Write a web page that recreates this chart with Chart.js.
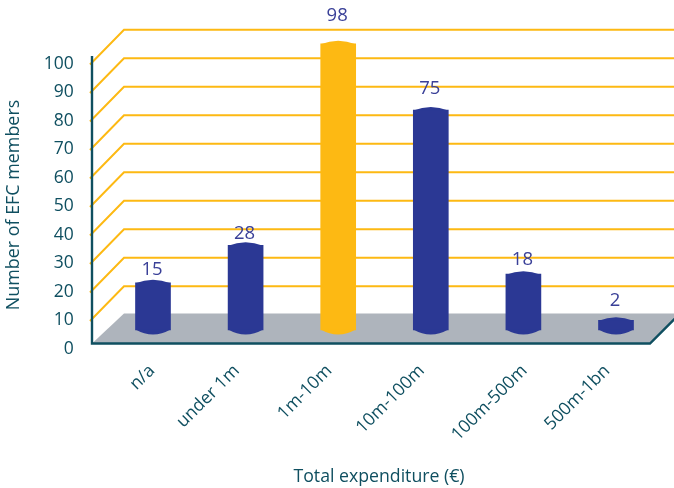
<!DOCTYPE html>
<html>
<head>
<meta charset="utf-8">
<style>html,body{margin:0;padding:0;background:#fff}canvas{display:block}</style>
<script src="https://cdn.jsdelivr.net/npm/chart.js@4"></script>
</head>
<body>
<canvas id="c" width="674" height="488"></canvas>
<script>
const categories = ["n/a", "under 1m", "1m-10m", "10m-100m", "100m-500m", "500m-1bn"];
const members = [15, 28, 98, 75, 18, 2];
const highlighted = "1m-10m";
const gridValues = [10, 20, 30, 40, 50, 60, 70, 80, 90, 100];

const TEAL = "#0f4f60", GOLD = "#fdb913", BLUE = "#2b3894", LABEL = "#3a4098", FLOOR = "#aeb4bc";
const FONT = '"Open Sans", sans-serif';
const labelLift = [10, 9, 25, 18, 11.5, 16.5];
const tickNudge = [8, 0, 0, 0, 10, 0];

const scene = {
  id: "scene",
  afterLayout(chart) {
    const x = chart.scales.x;
    x.left -= 11;
    x.getLabelItems().forEach((item, i) => { item.options.translation[0] += tickNudge[i]; });
  },
  beforeDatasetsDraw(chart) {
    const { ctx } = chart, y = chart.scales.y, W = chart.width;
    const fx = 92, bx = 124, depth = 32.7;
    const zero = y.getPixelForValue(0);
    ctx.save();
    // floor
    ctx.fillStyle = FLOOR;
    ctx.beginPath();
    ctx.moveTo(fx, zero - 4);
    ctx.lineTo(bx, zero - 34);
    ctx.lineTo(680, zero - 34);
    ctx.lineTo(650, zero - 4);
    ctx.closePath();
    ctx.fill();
    // perspective grid lines
    ctx.strokeStyle = GOLD;
    ctx.lineWidth = 2;
    gridValues.forEach(v => {
      const p = y.getPixelForValue(v);
      ctx.beginPath();
      ctx.moveTo(fx - 2, p + 2);
      ctx.lineTo(bx, p - depth);
      ctx.lineTo(W, p - depth);
      ctx.stroke();
    });
    // axes
    ctx.strokeStyle = TEAL;
    ctx.lineWidth = 2.4;
    ctx.beginPath();
    ctx.moveTo(fx, 56);
    ctx.lineTo(fx, zero - 4);
    ctx.lineTo(650, zero - 4);
    ctx.lineTo(680, zero - 34);
    ctx.stroke();
    ctx.restore();
  },
  afterDatasetsDraw(chart) {
    const { ctx } = chart, meta = chart.getDatasetMeta(0);
    ctx.save();
    meta.data.forEach((bar, i) => {
      const hw = bar.width / 2;
      ctx.fillStyle = categories[i] === highlighted ? GOLD : BLUE;
      // cylinder caps
      ctx.beginPath();
      ctx.moveTo(bar.x - hw, bar.y + 0.5);
      ctx.quadraticCurveTo(bar.x, bar.y - 6.5, bar.x + hw, bar.y + 0.5);
      ctx.closePath();
      ctx.fill();
      ctx.beginPath();
      ctx.moveTo(bar.x - hw, bar.base - 0.5);
      ctx.quadraticCurveTo(bar.x, bar.base + 9.5, bar.x + hw, bar.base - 0.5);
      ctx.closePath();
      ctx.fill();
      // value label
      ctx.fillStyle = LABEL;
      ctx.font = "18.5px " + FONT;
      ctx.textAlign = "center";
      ctx.textBaseline = "middle";
      ctx.fillText(String(members[i]), bar.x - 1, bar.y - 3 - labelLift[i]);
    });
    ctx.restore();
  }
};

new Chart(document.getElementById("c"), {
  type: "bar",
  data: {
    labels: categories,
    datasets: [{
      data: members,
      yAxisID: "yBar",
      base: -1.39,
      barThickness: 35,
      clip: false,
      backgroundColor: categories.map(c => c === highlighted ? GOLD : BLUE)
    }]
  },
  options: {
    responsive: false,
    animation: false,
    layout: { padding: { top: 62.5, right: 11.7, left: 0, bottom: 0 } },
    plugins: { legend: { display: false }, tooltip: { enabled: false } },
    scales: {
      x: {
        offset: true,
        grid: { display: false },
        border: { display: false },
        afterFit(s) { s.height = 140.5; },
        ticks: {
          color: TEAL, font: { family: FONT, size: 17.6 },
          maxRotation: 45, minRotation: 45, padding: 5, labelOffset: -9, autoSkip: false
        },
        title: {
          display: true, text: "Total expenditure (€)", color: TEAL,
          font: { family: FONT, size: 17.7 }, padding: { top: 0, bottom: 0 }
        }
      },
      y: {
        position: "left",
        min: 0, max: 100,
        grid: { display: false },
        border: { display: false },
        afterFit(s) { s.width = 106.7; },
        ticks: {
          stepSize: 10, color: TEAL, font: { family: FONT, size: 17.5 }, padding: 25, labelOffset: 1.5
        },
        title: {
          display: true, text: "Number of EFC members", color: TEAL,
          font: { family: FONT, size: 17.9 }, padding: { top: 3, bottom: 0 }
        }
      },
      yBar: {
        display: false,
        min: -7.465, max: 91.49
      }
    }
  },
  plugins: [scene]
});
</script>
</body>
</html>
